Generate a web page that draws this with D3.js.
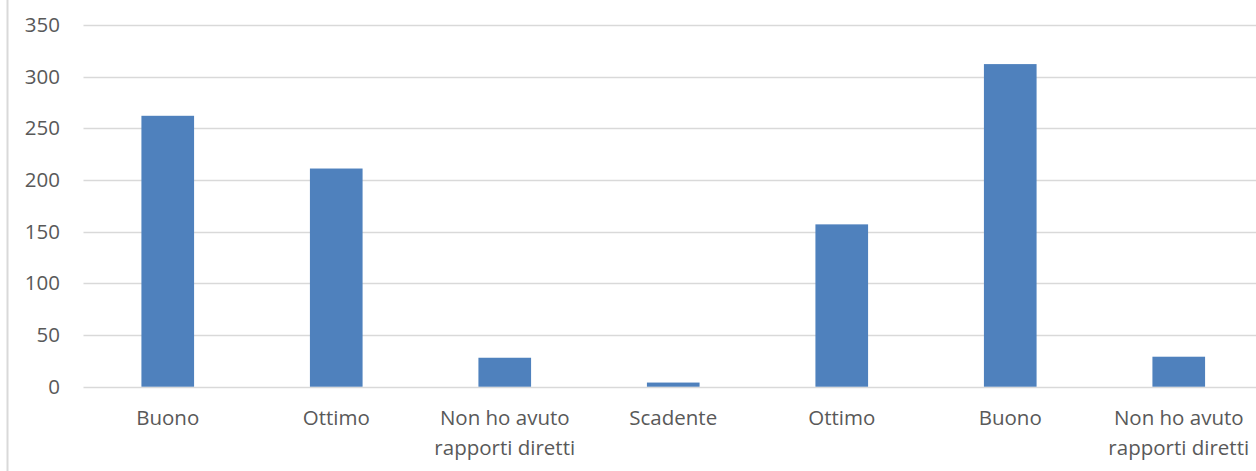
<!DOCTYPE html>
<html>
<head>
<meta charset="utf-8">
<script src="https://cdn.jsdelivr.net/npm/d3@7"></script>
<style>
  body { margin: 0; background: #fff; }
  svg { display: block; }
  text { font-family: "Open Sans", sans-serif; fill: #595959; }
</style>
</head>
<body>
<div id="chart"></div>
<script>
'use strict';

const categories = ['Buono', 'Ottimo', 'Non ho avuto rapporti diretti', 'Scadente', 'Ottimo', 'Buono', 'Non ho avuto rapporti diretti'];
const values = [262, 211, 28, 4, 157, 312, 29];
const yTicks = [0, 50, 100, 150, 200, 250, 300, 350];

const width = 1256, height = 471;
const margin = {top: 24.8, left: 83.5, right: 1263, bottom: 386.7};

const svg = d3.select('#chart')
  .append('svg')
    .attr('width', width)
    .attr('height', height);

// left frame line
svg.append('line')
  .attr('x1', 7.5).attr('x2', 7.5)
  .attr('y1', 0).attr('y2', height)
  .attr('stroke', '#d9d9d9')
  .attr('stroke-width', 2);

const keys = categories.map((c, i) => i);

const x = d3.scaleBand()
  .domain(keys)
  .range([margin.left, margin.right])
  .paddingInner(0.6875)
  .paddingOuter(0.34375);

const y = d3.scaleLinear()
  .domain([0, 350])
  .range([margin.bottom, margin.top]);

// gridlines
svg.append('g')
  .selectAll('line')
  .data(yTicks)
  .join('line')
    .attr('x1', margin.left)
    .attr('x2', width)
    .attr('y1', d => Math.round(y(d)) + 0.5)
    .attr('y2', d => Math.round(y(d)) + 0.5)
    .attr('stroke', '#d9d9d9')
    .attr('stroke-width', 1.5);

// y labels
svg.append('g')
  .selectAll('text')
  .data(yTicks)
  .join('text')
    .attr('x', 60)
    .attr('y', d => y(d))
    .attr('dy', '0.35em')
    .attr('text-anchor', 'end')
    .style('font-size', '20.5px')
    .text(d => d);

// bars
svg.append('g')
  .selectAll('rect')
  .data(values)
  .join('rect')
    .attr('x', (d, i) => x(i))
    .attr('y', d => y(d))
    .attr('width', x.bandwidth())
    .attr('height', d => y(0) - y(d))
    .attr('fill', '#4f81bd');

// x labels (wrap on two lines where needed)
const lines = c => c === 'Non ho avuto rapporti diretti' ? ['Non ho avuto', 'rapporti diretti'] : [c];
const labels = svg.append('g')
  .selectAll('text')
  .data(categories)
  .join('text')
    .attr('text-anchor', 'middle')
    .style('font-size', '20.5px')
    .attr('transform', (d, i) => `translate(${x(i) + x.bandwidth() / 2},${418})`);
labels.selectAll('tspan')
  .data(d => lines(d))
  .join('tspan')
    .attr('x', 0)
    .attr('y', (d, i) => i * 30)
    .attr('dy', '0.35em')
    .text(d => d);
</script>
</body>
</html>
